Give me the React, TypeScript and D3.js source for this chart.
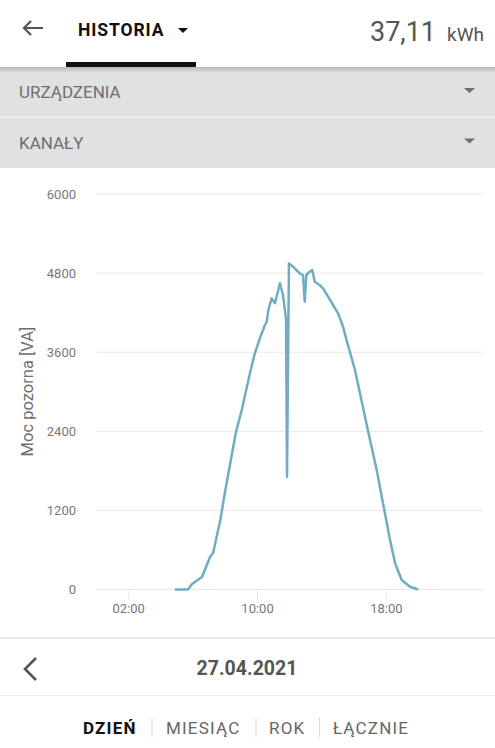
import { useEffect, useRef } from "react";
import * as d3 from "d3";

// apparent power over the day (hour of day, VA)
const hours = [
  4.87, 5.68, 5.93, 6.55, 7.05, 7.24, 7.69, 8.0, 8.66, 9.02, 9.53, 9.84, 10.15, 10.46,
  10.57, 10.67, 10.88, 11.08, 11.29, 11.39, 11.58, 11.7, 11.77, 11.83, 11.95, 12.2,
  12.41, 12.62, 12.82, 12.93, 13.03, 13.24, 13.4, 13.55, 13.86, 14.07, 14.38, 14.69,
  15.0, 15.31, 15.56, 16.05, 16.88, 17.4, 17.87, 18.23, 18.54, 18.95, 19.47, 19.98,
];
const power = [
  0, 0, 83, 190, 493, 554, 1054, 1509, 2389, 2723, 3284, 3588, 3815, 4013,
  4063, 4240, 4417, 4342, 4543, 4650, 4468, 4240, 4089, 1707, 4948, 4897,
  4847, 4797, 4771, 4366, 4771, 4821, 4847, 4669, 4619, 4569, 4442, 4316,
  4190, 3987, 3755, 3330, 2385, 1813, 1206, 751, 397, 144, 42, 0,
];
const yTicks = [0, 1200, 2400, 3600, 4800, 6000];
const xTicks = [2, 10, 18];
const tabs = ["DZIEŃ", "MIESIĄC", "ROK", "ŁĄCZNIE"];
const tabX = [83, 166, 269, 333];
const sepX = [152, 256, 319.5];

const W = 495;
const H = 748;
const FONT = "Roboto, 'Noto Sans', sans-serif";

export default function App() {
  const svgRef = useRef<SVGSVGElement>(null);

  useEffect(() => {
    const svg = d3.select(svgRef.current);
    svg.selectAll("*").remove();
    svg.attr("font-family", FONT);

    const defs = svg.append("defs");
    const grad = defs.append("linearGradient").attr("id", "shadow").attr("x1", 0).attr("x2", 0).attr("y1", 0).attr("y2", 1);
    grad.append("stop").attr("offset", "0%").attr("stop-color", "#000").attr("stop-opacity", 0.18);
    grad.append("stop").attr("offset", "100%").attr("stop-color", "#000").attr("stop-opacity", 0);

    svg.append("rect").attr("width", W).attr("height", H).attr("fill", "#fff");

    // header
    svg.append("path")
      .attr("d", "M24,28 L43,28 M31,21 L24,28 L31,35")
      .attr("fill", "none").attr("stroke", "#555").attr("stroke-width", 2.2);
    svg.append("text").text("HISTORIA")
      .attr("x", 78).attr("y", 36).attr("font-size", 17.5).attr("font-weight", 700)
      .attr("letter-spacing", 0.9).attr("fill", "#111");
    svg.append("path").attr("d", "M178,28 L188,28 L183,33 Z").attr("fill", "#111");
    svg.append("rect").attr("x", 66).attr("y", 62).attr("width", 130).attr("height", 5).attr("fill", "#111");
    svg.append("text").text("37,11")
      .attr("x", 436).attr("y", 41).attr("text-anchor", "end").attr("font-size", 27).attr("fill", "#555");
    svg.append("text").text("kWh")
      .attr("x", 484).attr("y", 41).attr("text-anchor", "end").attr("font-size", 19).attr("fill", "#555");

    // dropdown bands
    const bands = ["URZĄDZENIA", "KANAŁY"];
    bands.forEach((b, i) => {
      const y0 = 67 + i * 50.5;
      svg.append("rect").attr("x", 0).attr("y", y0).attr("width", W).attr("height", 50.5).attr("fill", "#e0e1e3");
      svg.append("text").text(b)
        .attr("x", 19).attr("y", y0 + 31).attr("font-size", 17).attr("fill", "#6e6e6e");
      svg.append("path")
        .attr("d", `M464,${y0 + 21} L475,${y0 + 21} L469.5,${y0 + 26} Z`).attr("fill", "#6e6e6e");
    });
    svg.append("rect").attr("x", 0).attr("y", 116.5).attr("width", W).attr("height", 1.2).attr("fill", "#f6f6f6");
    svg.append("rect").attr("x", 0).attr("y", 67).attr("width", W).attr("height", 6).attr("fill", "url(#shadow)");

    // chart
    const x = d3.scaleLinear().domain([0, 24]).range([96.5, 483]);
    const y = d3.scaleLinear().domain([0, 6000]).range([589.5, 194]);

    const g = svg.append("g");
    g.selectAll("line.grid").data(yTicks).join("line")
      .attr("x1", 96.5).attr("x2", 483)
      .attr("y1", d => y(d)).attr("y2", d => y(d))
      .attr("stroke", "#e8e8e8").attr("stroke-width", 1);
    g.selectAll("text.ylab").data(yTicks).join("text")
      .text(d => d)
      .attr("x", 76).attr("y", d => y(d)).attr("dy", "0.36em")
      .attr("text-anchor", "end").attr("font-size", 13).attr("fill", "#777");

    g.selectAll("line.xtick").data(xTicks).join("line")
      .attr("x1", d => x(d)).attr("x2", d => x(d))
      .attr("y1", 589.5).attr("y2", 600)
      .attr("stroke", "#e8e8e8").attr("stroke-width", 1);
    g.selectAll("text.xlab").data(xTicks).join("text")
      .text(d => d3.format("02d")(d) + ":00")
      .attr("x", d => x(d)).attr("y", 613)
      .attr("text-anchor", "middle").attr("font-size", 13).attr("fill", "#777");

    g.append("text").text("Moc pozorna [VA]")
      .attr("transform", "translate(33,391.5) rotate(-90)")
      .attr("text-anchor", "middle").attr("font-size", 16.5).attr("fill", "#6e6e6e");

    const line = d3.line<number>()
      .x((_, i) => x(hours[i]))
      .y(d => y(d));
    g.append("path")
      .datum(power)
      .attr("fill", "none")
      .attr("stroke", "#70adc5")
      .attr("stroke-width", 2.5)
      .attr("stroke-linejoin", "round")
      .attr("d", line);

    // footer
    svg.append("rect").attr("x", 0).attr("y", 637).attr("width", W).attr("height", 2).attr("fill", "#ebebeb");
    svg.append("path")
      .attr("d", "M36,658 L25,669 L36,680")
      .attr("fill", "none").attr("stroke", "#555").attr("stroke-width", 2.6);
    svg.append("text").text("27.04.2021")
      .attr("x", 247).attr("y", 675).attr("text-anchor", "middle")
      .attr("font-size", 19.5).attr("font-weight", 700).attr("fill", "#555");
    svg.append("rect").attr("x", 0).attr("y", 695).attr("width", W).attr("height", 1).attr("fill", "#eeeeee");

    tabs.forEach((t, i) => {
      svg.append("text").text(t)
        .attr("x", tabX[i]).attr("y", 734)
        .attr("font-size", 17).attr("letter-spacing", 1.2)
        .attr("font-weight", i === 0 ? 700 : 400)
        .attr("fill", i === 0 ? "#111" : "#666");
    });
    sepX.forEach(sx => {
      svg.append("line").attr("x1", sx).attr("x2", sx).attr("y1", 717).attr("y2", 737)
        .attr("stroke", "#dddddd").attr("stroke-width", 1);
    });
  }, []);

  return (
    <div style={{ position: "absolute", left: 0, top: 0 }}>
      <svg ref={svgRef} width={W} height={H} style={{ display: "block" }} />
    </div>
  );
}
